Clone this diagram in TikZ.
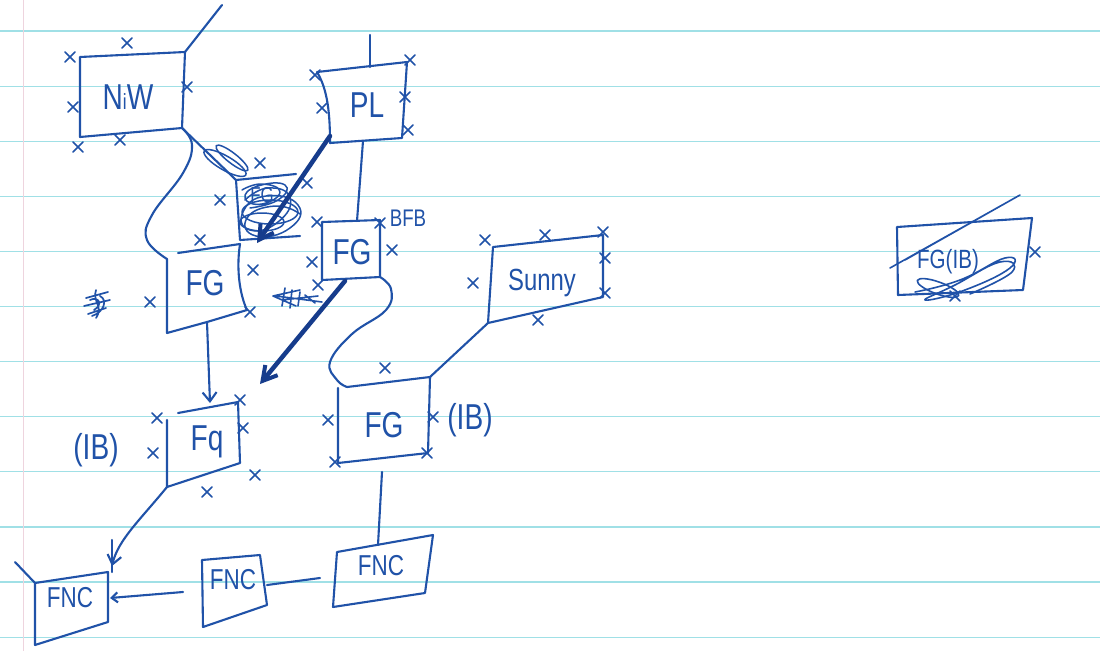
\documentclass[tikz,border=0pt]{standalone}
\usepackage{fontspec}
\setmainfont{Liberation Sans}
\usetikzlibrary{arrows.meta}
\definecolor{ink}{RGB}{32,82,168}
\definecolor{inkdark}{RGB}{22,60,140}
\definecolor{paperline}{RGB}{160,224,230}
\definecolor{marginline}{RGB}{238,212,222}
\newcommand\hw[1]{\scalebox{0.78}[1]{#1}}
\tikzset{
  pen/.style={draw=ink, line width=2.1pt, line cap=round, line join=round},
  heavy/.style={draw=inkdark, line width=4.5pt, line cap=round},
  lbl/.style={text=ink, font=\fontsize{36}{36}\selectfont, inner sep=0pt},
  slbl/.style={text=ink, font=\fontsize{24}{24}\selectfont, inner sep=0pt},
  xm/.pic={\draw[draw=ink, line width=1.7pt, line cap=round] (-5,-5)--(5,5) (-5,5)--(5,-5);},
}
\begin{document}
\begin{tikzpicture}[x=1pt,y=-1pt]
\useasboundingbox (0,0) rectangle (1100,651);
\fill[white] (0,0) rectangle (1100,651);
% notebook paper
\foreach \k in {0,...,11}{
  \draw[paperline, line width=1.2pt] (0,{31+55.1*\k}) -- (1100,{31+55.1*\k});
}
\draw[marginline, line width=1pt] (23,0) -- (23,651);

% ---------- NiW box ----------
\coordinate (nw-tl) at (80,57); \coordinate (nw-tr) at (185,52);
\coordinate (nw-br) at (182,128); \coordinate (nw-bl) at (80,137);
\coordinate (nw-up) at (222,5);
\draw[pen] (nw-tl) -- (nw-tr) -- (nw-br) -- (nw-bl) -- cycle;
\node[lbl] (nw) at (128,97) {\hw{N{\fontsize{22}{22}\selectfont i}W}};
\draw[pen] (nw-tr) -- (nw-up);
\foreach \p in {(70,57),(127,43),(187,87),(73,107),(78,147),(120,140)} \pic at \p {xm};

% ---------- PL box ----------
\coordinate (pl-tl) at (317,72); \coordinate (pl-tr) at (407,62);
\coordinate (pl-br) at (402,138); \coordinate (pl-bl) at (330,143);
\coordinate (pl-top) at (370,67); \coordinate (pl-up) at (370,35);
\coordinate (pl-bot) at (363,141);
\draw[pen] (pl-tl) -- (pl-tr) -- (pl-br) -- (pl-bl) .. controls (330,115) and (328,90) .. (pl-tl);
\node[lbl] (pl) at (367,105) {\hw{PL}};
\draw[pen] (pl-top) -- (pl-up);
\foreach \p in {(315,75),(410,60),(405,97),(408,130),(322,108)} \pic at \p {xm};

% ---------- crossed-out box (centre) ----------
\coordinate (cx-tl) at (236,180); \coordinate (cx-tr) at (296,174);
\coordinate (cx-br) at (300,236); \coordinate (cx-bl) at (240,240);
\draw[pen] (cx-tl) -- (cx-tr) (cx-tl) -- (cx-bl) -- (cx-br);
\draw[pen] (nw-br) -- (cx-tl);
\draw[pen, line width=1.5pt] (225,163) ellipse [x radius=24, y radius=7, rotate=-30];
\draw[pen, line width=1.5pt] (232,158) ellipse [x radius=20, y radius=5, rotate=-38];
\node[lbl, scale=0.6] (cx) at (262,195) {\hw{FG}};
\draw[pen, line width=1.5pt] plot[smooth, tension=0.9] coordinates
  {(245,200) (268,188) (290,198) (278,222) (250,230) (243,212) (266,196) (298,205) (290,228) (256,236) (247,218) (275,206) (300,214)};
\draw[pen, line width=1.5pt] plot[smooth, tension=0.9] coordinates
  {(242,190) (262,184) (280,192) (262,204) (245,198) (258,186) (285,185) (278,200) (250,208)};
\draw[pen, line width=1.5pt] (270,212) ellipse [x radius=28, y radius=12];
\draw[pen, line width=1.5pt] (262,222) ellipse [x radius=22, y radius=9];
\foreach \p in {(260,163),(307,183),(220,200)} \pic at \p {xm};

% ---------- FG (left middle) ----------
\coordinate (fg-tl) at (167,259); \coordinate (fg-t1) at (178,253);
\coordinate (fg-tr) at (240,244); \coordinate (fg-br) at (247,310);
\coordinate (fg-bl) at (167,333); \coordinate (fg-bot) at (207,322);
\draw[pen] (fg-t1) -- (fg-tr);
\draw[pen] (fg-tr) .. controls (236,270) and (240,295) .. (fg-br) -- (fg-bot) -- (fg-bl) -- (fg-tl);
\node[lbl] (fg) at (205,283) {\hw{FG}};
\draw[pen] plot[smooth, tension=0.7] coordinates {(182,128) (192,145) (183,173) (152,215) (147,240) (fg-tl)};
\foreach \p in {(200,240),(253,270),(250,312),(150,302)} \pic at \p {xm};
% crossed-out scribble on the left
\draw[pen, line width=1.7pt] (86,298) -- (108,292) (84,306) -- (110,300) (88,314) -- (106,308)
  (96,290) .. controls (92,302) and (104,306) .. (96,318) (100,296) .. controls (108,300) and (104,312) .. (92,316)
  (90,300) .. controls (98,296) and (104,304) .. (94,310);

% ---------- FG (BFB) ----------
\coordinate (fb-tl) at (322,222); \coordinate (fb-tr) at (380,220);
\coordinate (fb-br) at (380,277); \coordinate (fb-bl) at (322,280);
\coordinate (fb-top) at (357,221); \coordinate (fb-bot) at (346,280);
\draw[pen] (fb-tl) -- (fb-tr) -- (fb-br) -- (fb-bl) -- cycle;
\node[lbl] (fb) at (352,252) {\hw{FG}};
\node[slbl] (bfb) at (408,218) {\hw{BFB}};
\draw[pen] (pl-bot) -- (fb-top);
\foreach \p in {(317,222),(312,262),(380,223),(392,250),(318,285)} \pic at \p {xm};

% thick arrows
\coordinate (pl-arr) at (330,136); \coordinate (cx-arr) at (257,243);
\draw[heavy, -{Straight Barb[length=14pt,width=16pt,line width=4pt]}] (pl-arr) -- (cx-arr);

% ---------- lower-left FG ----------
\coordinate (fl-tl) at (167,420); \coordinate (fl-t1) at (178,413);
\coordinate (fl-tr) at (238,402); \coordinate (fl-br) at (240,463);
\coordinate (fl-bl) at (167,487); \coordinate (fl-top) at (210,403);
\draw[pen] (fl-t1) -- (fl-tr) -- (fl-br) -- (fl-bl) -- (fl-tl);
\node[lbl] (fl) at (207,442) {\hw{Fq}};
\node[lbl] (ibl) at (96,450) {\hw{(IB)}};
\foreach \p in {(157,418),(153,453),(240,400),(243,428),(255,475),(207,492)} \pic at \p {xm};
\draw[pen, -{Straight Barb[length=9pt,width=14pt]}] (fg-bot) -- (fl-top);
\coordinate (fb-arr) at (345,281); \coordinate (fl-arr) at (260,384);
\draw[heavy, -{Straight Barb[length=14pt,width=16pt,line width=4pt]}] (fb-arr) -- (fl-arr);
% crossed-out small arrow
\draw[pen, line width=1.6pt] (300,290) -- (273,296) -- (296,306)
  (276,296) -- (322,302) (285,288) -- (282,306) (292,290) -- (290,308) (300,292) -- (298,306)
  (305,295) -- (315,303) (282,300) -- (318,296);

% ---------- Sunny ----------
\coordinate (su-tl) at (493,247); \coordinate (su-tr) at (603,235);
\coordinate (su-br) at (603,297); \coordinate (su-bl) at (488,323);
\draw[pen] (su-tl) -- (su-tr) -- (su-br) -- (su-bl) -- cycle;
\node[lbl, scale=0.85] (sunny) at (542,283) {\hw{Sunny}};
\foreach \p in {(485,240),(545,235),(603,232),(605,258),(605,293),(473,283),(538,320)} \pic at \p {xm};

% ---------- lower-right FG ----------
\coordinate (fr-tl) at (338,388); \coordinate (fr-t1) at (347,387);
\coordinate (fr-tr) at (430,377); \coordinate (fr-br) at (428,453);
\coordinate (fr-bl) at (338,463); \coordinate (fr-bot) at (382,458);
\draw[pen] (fr-t1) -- (fr-tr) -- (fr-br) -- (fr-bl) -- (fr-tl);
\node[lbl] (fr) at (384,425) {\hw{FG}};
\node[lbl] (ibr) at (470,420) {\hw{(IB)}};
\foreach \p in {(385,368),(328,420),(433,417),(427,453),(335,462)} \pic at \p {xm};
\draw[pen] (su-bl) -- (fr-tr);
\draw[pen] plot[smooth, tension=0.7] coordinates {(fb-br) (391,289) (386,310) (352,334) (330,362) (337,380) (fr-t1)};

% ---------- FNC boxes ----------
\coordinate (nr-tl) at (337,552); \coordinate (nr-tr) at (433,535);
\coordinate (nr-br) at (425,593); \coordinate (nr-bl) at (333,607);
\coordinate (nr-top) at (378,545); \coordinate (nr-l) at (320,578);
\draw[pen] (nr-tl) -- (nr-tr) -- (nr-br) -- (nr-bl) -- cycle;
\node[lbl, scale=0.8] (fncr) at (381,566) {\hw{FNC}};

\coordinate (nm-tl) at (202,560); \coordinate (nm-tr) at (260,555);
\coordinate (nm-br) at (267,605); \coordinate (nm-bl) at (203,627);
\coordinate (nm-r) at (267,585); \coordinate (nm-l) at (183,592);
\draw[pen] (nm-tl) -- (nm-tr) -- (nm-br) -- (nm-bl) -- cycle;
\node[lbl, scale=0.8] (fncm) at (233,580) {\hw{FNC}};

\coordinate (nl-tl) at (35,583); \coordinate (nl-tr) at (108,572);
\coordinate (nl-br) at (108,622); \coordinate (nl-bl) at (35,645);
\coordinate (nl-r) at (110,598); \coordinate (nl-top) at (112,566);
\coordinate (nl-stub) at (15,562);
\draw[pen] (nl-tl) -- (nl-tr) -- (nl-br) -- (nl-bl) -- cycle;
\draw[pen] (nl-stub) -- (nl-tl);
\node[lbl, scale=0.8] (fncl) at (70,598) {\hw{FNC}};

\draw[pen] (fr-bot) ++(0,14) -- (nr-top);
\draw[pen] (nr-l) -- (nm-r);
\draw[pen, -{Straight Barb[length=6pt,width=10pt]}] (nm-l) -- (nl-r);
\draw[pen, -{Straight Barb[length=9pt,width=14pt]}] (fl-bl) .. controls (140,520) and (118,540) .. (nl-top);
\draw[pen] (112,540) -- (112,572);

% ---------- crossed-out FG(IB) on the right ----------
\coordinate (rx-tl) at (897,227); \coordinate (rx-tr) at (1032,218);
\coordinate (rx-br) at (1023,290); \coordinate (rx-bl) at (898,295);
\draw[pen] (rx-tl) -- (rx-tr) -- (rx-br) -- (rx-bl) -- cycle;
\node[slbl, scale=1.1] (rx) at (948,262) {\hw{FG(IB)}};
\draw[pen, line width=1.6pt] (890,268) -- (1020,195) -- (905,260);
\draw[pen, line width=1.6pt] plot[smooth, tension=0.8] coordinates
  {(915,292) (960,280) (1005,258) (1010,268) (965,290) (925,300) (955,285) (1000,262) (1012,272) (970,294)};
\draw[pen, line width=1.6pt] (938,288) ellipse [x radius=22, y radius=6, rotate=-20];
\pic at (1035,252) {xm};
\pic at (955,296) {xm};
\end{tikzpicture}
\end{document}
